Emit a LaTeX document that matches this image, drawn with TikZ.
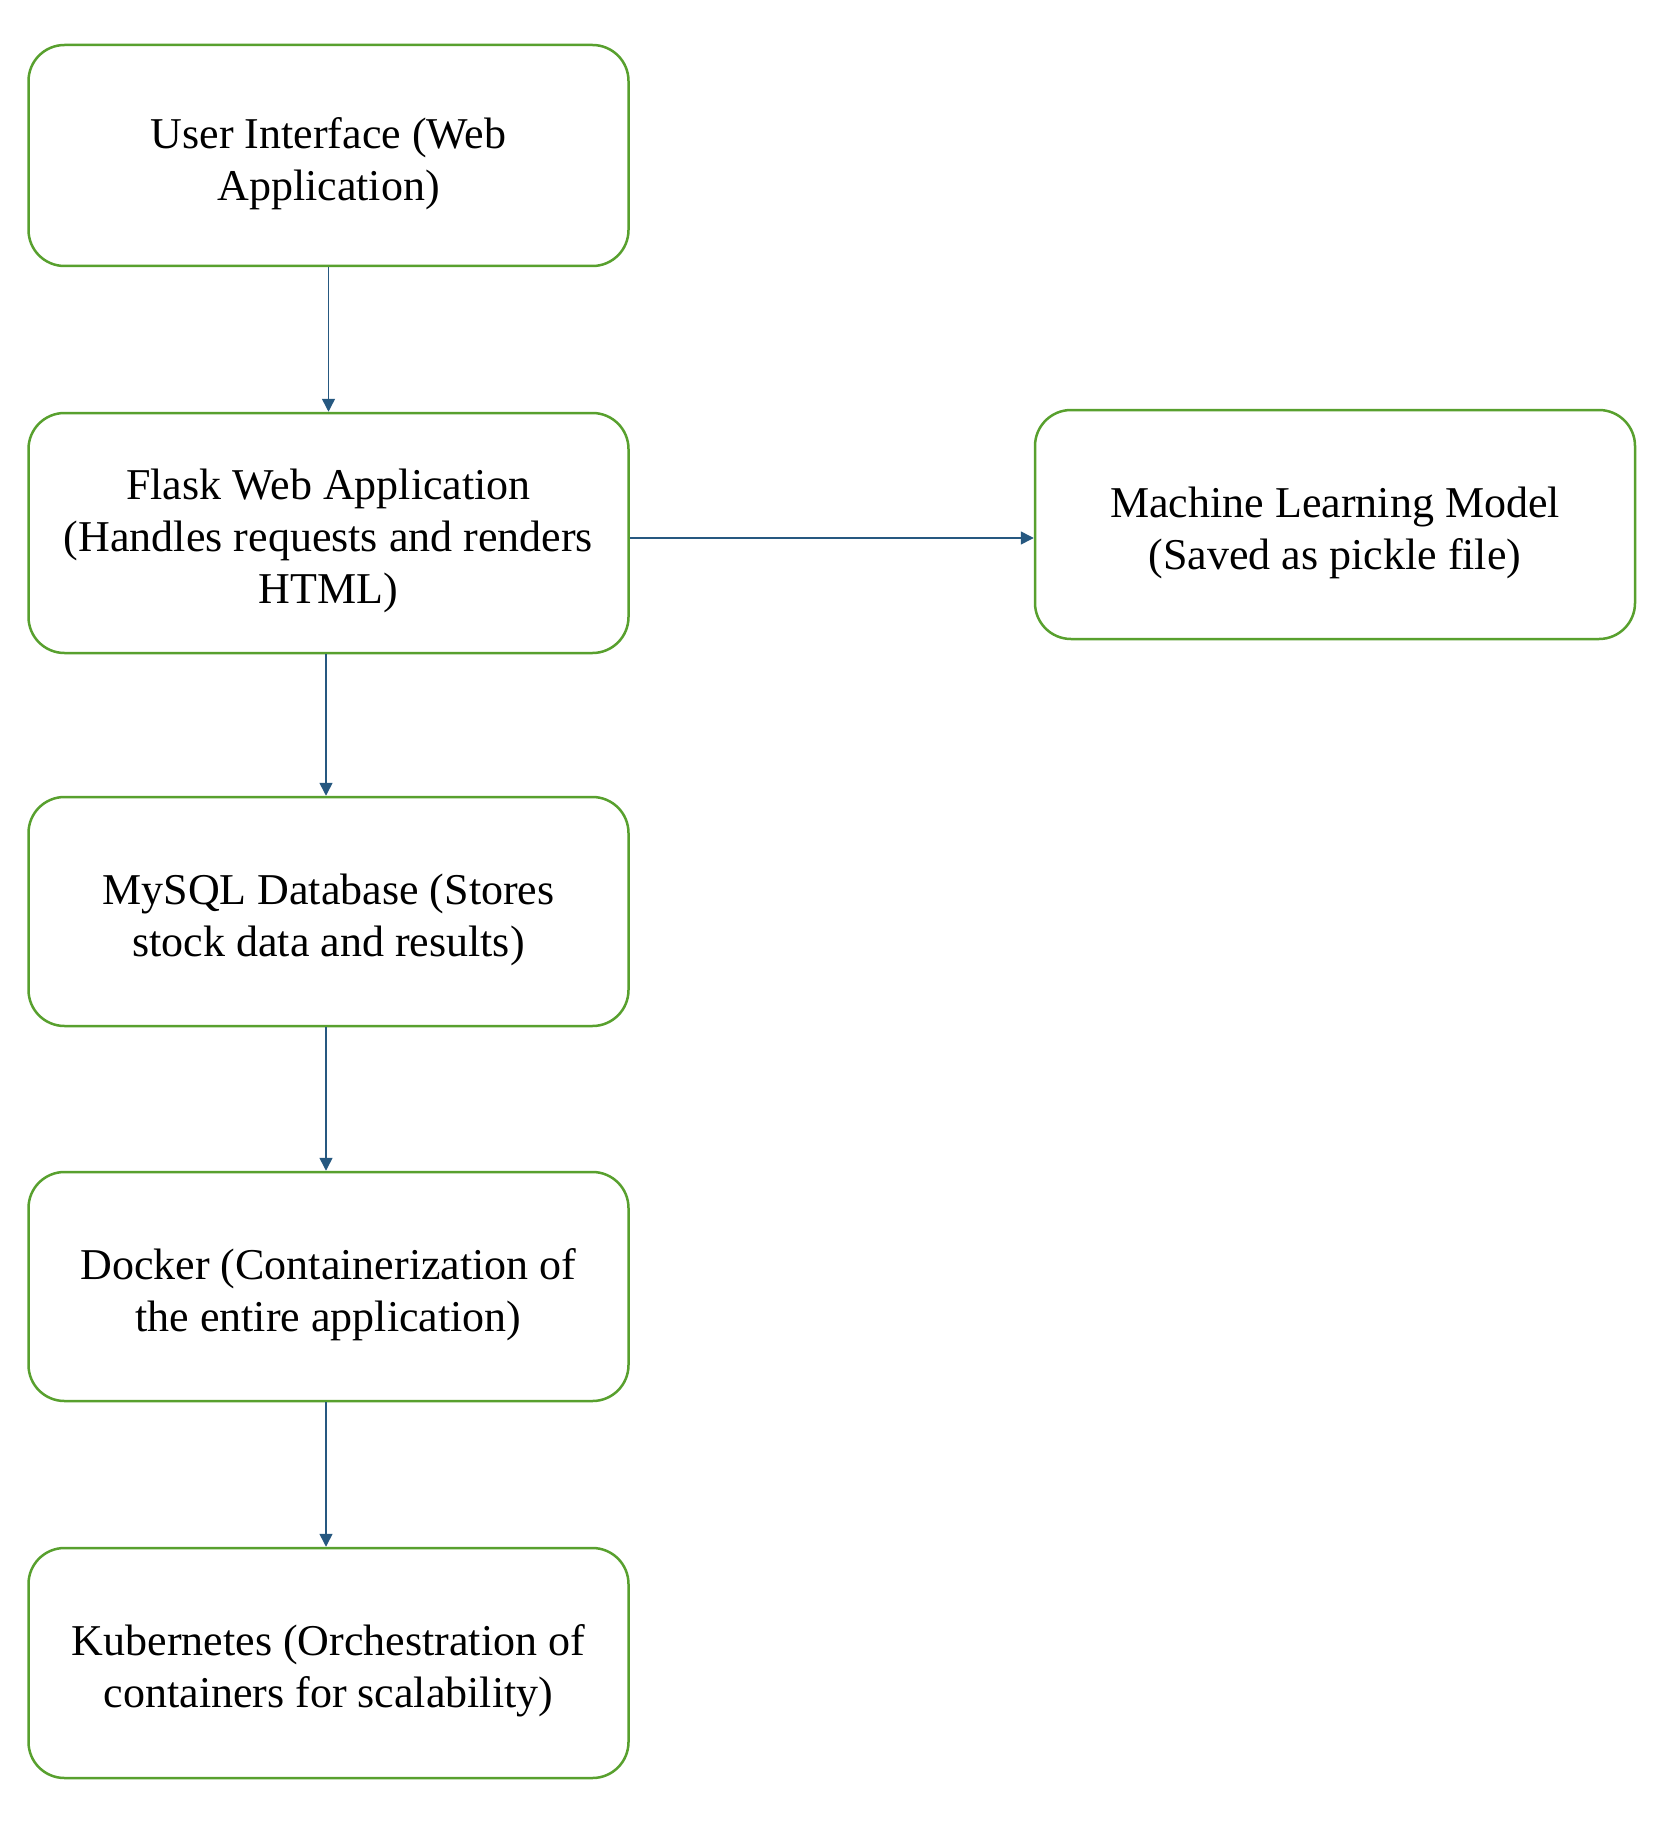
\documentclass[tikz,border=0pt]{standalone}
\usepackage{fontspec}
\setmainfont{Liberation Serif}
\usetikzlibrary{arrows.meta}
\definecolor{boxgreen}{RGB}{88,160,46}
\definecolor{arrowblue}{RGB}{38,88,128}
\tikzset{
  box/.style={draw=boxgreen, line width=1.25pt, rounded corners=18pt, fill=white,
    inner sep=0pt, minimum width=300pt},
  txt/.style={align=center, font=\fontsize{22}{26}\selectfont, inner sep=0pt, yshift=-4pt},
  conn/.style={draw=arrowblue, line width=0.75pt, -{Triangle[length=6.5pt,width=6.5pt]}}
}
\begin{document}
\begin{tikzpicture}[x=0.5pt,y=-0.5pt]
\useasboundingbox (0,0) rectangle (1672,1824);
\node[box, minimum height=110.5pt] (ui) at (328.5,155.5) {};
\node[box, minimum height=120pt] (flask) at (328.5,533) {};
\node[box, minimum height=114.5pt] (ml) at (1335,524.5) {};
\node[box, minimum height=114.5pt] (db) at (328.5,911.5) {};
\node[box, minimum height=114.5pt] (docker) at (328.5,1286.5) {};
\node[box, minimum height=115pt] (kube) at (328.5,1663) {};
\node[txt] (uit) at (ui) {User Interface (Web\\Application)};
\node[txt] (flaskt) at (flask) {Flask Web Application\\(Handles requests and renders\\HTML)};
\node[txt] (mlt) at (ml) {Machine Learning Model\\(Saved as pickle file)};
\node[txt] (dbt) at (db) {MySQL Database (Stores\\stock data and results)};
\node[txt] (dockert) at (docker) {Docker (Containerization of\\the entire application)};
\node[txt] (kubet) at (kube) {Kubernetes (Orchestration of\\containers for scalability)};
\coordinate (row) at (0,538);
\coordinate (col) at (326,0);
\draw[conn] (ui) -- (flask);
\draw[conn] (flask.east |- row) -- (ml.west |- row);
\draw[conn] (flask.south -| col) -- (db.north -| col);
\draw[conn] (db.south -| col) -- (docker.north -| col);
\draw[conn] (docker.south -| col) -- (kube.north -| col);
\end{tikzpicture}
\end{document}
